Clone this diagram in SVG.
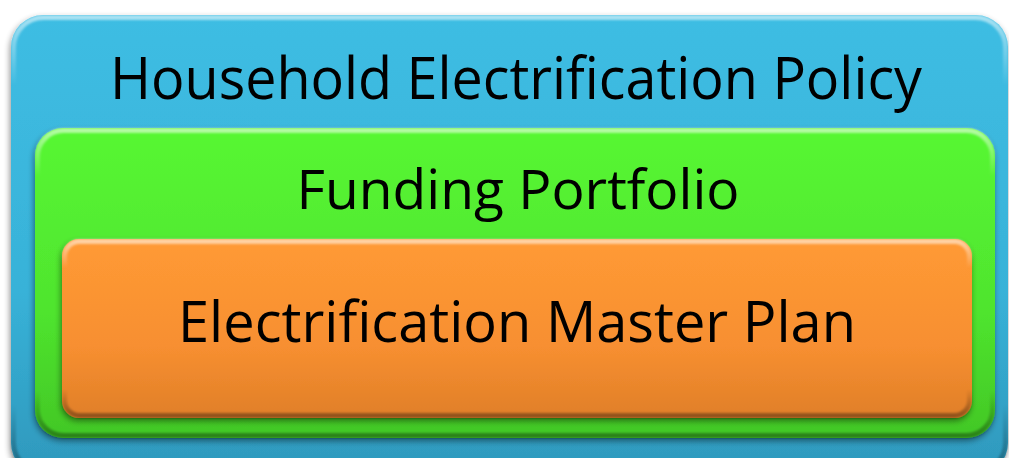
<svg xmlns="http://www.w3.org/2000/svg" width="1009" height="458" viewBox="0 0 1009 458">
  <defs>
    <linearGradient id="gBlue" x1="0" y1="0" x2="0" y2="1">
      <stop offset="0" stop-color="#3EBDE3"/>
      <stop offset="0.6" stop-color="#38B2D8"/>
      <stop offset="1" stop-color="#2E98BC"/>
    </linearGradient>
    <linearGradient id="gGreen" x1="0" y1="0" x2="0" y2="1">
      <stop offset="0" stop-color="#57F733"/>
      <stop offset="0.6" stop-color="#4FE42E"/>
      <stop offset="1" stop-color="#42C726"/>
    </linearGradient>
    <linearGradient id="gOrange" x1="0" y1="0" x2="0" y2="1">
      <stop offset="0" stop-color="#FF9A35"/>
      <stop offset="0.6" stop-color="#F78F30"/>
      <stop offset="1" stop-color="#E07F29"/>
    </linearGradient>
    <!-- soft bevel: light rim at the top, dark rim at the bottom -->
    <linearGradient id="gRim" x1="0" y1="0" x2="0" y2="1">
      <stop offset="0" stop-color="#ffffff" stop-opacity="0.55"/>
      <stop offset="0.15" stop-color="#ffffff" stop-opacity="0"/>
      <stop offset="0.85" stop-color="#000000" stop-opacity="0"/>
      <stop offset="1" stop-color="#000000" stop-opacity="0.35"/>
    </linearGradient>
    <filter id="shadow" x="-5%" y="-5%" width="110%" height="115%">
      <feGaussianBlur in="SourceAlpha" stdDeviation="3"/>
      <feOffset dx="-1" dy="3" result="b"/>
      <feComponentTransfer><feFuncA type="linear" slope="0.45"/></feComponentTransfer>
      <feMerge><feMergeNode/><feMergeNode in="SourceGraphic"/></feMerge>
    </filter>
    <filter id="soft"><feGaussianBlur stdDeviation="1.2"/></filter>
  </defs>
  <style>
    .lbl { font-family: "Open Sans", "Liberation Sans", sans-serif; fill: #000; text-anchor: middle; }
    .rim { fill: none; stroke: url(#gRim); stroke-width: 5; filter: url(#soft); }
  </style>

  <g id="policy">
    <rect x="11" y="15" width="997" height="460" rx="32" fill="url(#gBlue)" filter="url(#shadow)"/>
    <rect x="13.5" y="17.5" width="992" height="455" rx="30" class="rim"/>
    <text class="lbl" x="516" y="99" font-size="58" textLength="812" lengthAdjust="spacingAndGlyphs">Household Electrification Policy</text>
  </g>

  <g id="funding">
    <rect x="35" y="128" width="960" height="310" rx="28" fill="url(#gGreen)" filter="url(#shadow)"/>
    <rect x="37.5" y="130.5" width="955" height="305" rx="26" class="rim"/>
    <text class="lbl" x="518" y="209" font-size="55" textLength="443" lengthAdjust="spacingAndGlyphs">Funding Portfolio</text>
  </g>

  <g id="master-plan">
    <rect x="62" y="239" width="910" height="179" rx="17" fill="url(#gOrange)" filter="url(#shadow)"/>
    <rect x="64.5" y="241.5" width="905" height="174" rx="15" class="rim"/>
    <text class="lbl" x="517" y="342" font-size="57" textLength="678" lengthAdjust="spacingAndGlyphs">Electrification Master Plan</text>
  </g>
</svg>
